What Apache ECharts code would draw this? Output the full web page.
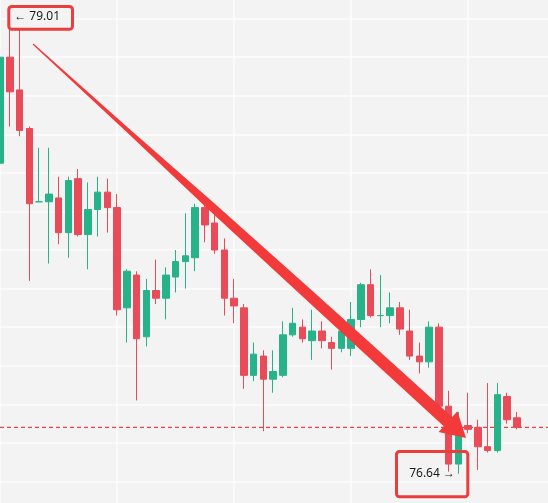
<!DOCTYPE html>
<html>
<head>
<meta charset="utf-8">
<script src="https://cdn.jsdelivr.net/npm/echarts@6/dist/echarts.min.js"></script>
<style>
  html, body { margin: 0; padding: 0; background: #f3f3f3; overflow: hidden; }
  /* the plot runs a little past the window edges, like the cropped screenshot */
  #chart { position: absolute; left: 0; top: -20px; width: 556px; height: 540px; }
</style>
</head>
<body>
<div id="chart"></div>
<script>
  // one candle per entry, oldest first
  const opens = [78.25, 78.80, 78.63, 78.43, 78.05, 78.05, 78.07, 77.89, 78.17, 77.88,
    78.01, 78.10, 78.02, 77.50, 77.67, 77.35, 77.59, 77.55, 77.66, 77.74,
    77.76, 78.02, 77.94, 77.80, 77.55, 77.50, 77.15, 77.25, 77.13, 77.15,
    77.36, 77.40, 77.33, 77.38, 77.32, 77.29, 77.29, 77.44, 77.62, 77.46,
    77.46, 77.50, 77.38, 77.25, 77.22, 77.40, 76.99, 76.69, 76.89, 76.88,
    76.78, 76.76, 77.04, 76.93];
  const closes = [78.80, 78.62, 78.42, 78.04, 78.05, 78.09, 77.89, 78.16, 77.88, 78.01,
    78.10, 78.02, 77.49, 77.69, 77.34, 77.59, 77.55, 77.67, 77.74, 77.77,
    78.02, 77.93, 77.80, 77.55, 77.51, 77.15, 77.26, 77.13, 77.17, 77.36,
    77.42, 77.34, 77.38, 77.33, 77.29, 77.38, 77.44, 77.62, 77.46, 77.46,
    77.50, 77.39, 77.25, 77.22, 77.40, 76.99, 76.69, 76.88, 76.87, 76.78,
    76.76, 77.05, 76.92, 76.88];
  const lows = [78.24, 78.44, 78.39, 77.64, 78.05, 77.73, 77.83, 77.76, 77.87, 77.70,
    77.87, 77.89, 77.46, 77.32, 77.02, 77.30, 77.52, 77.44, 77.58, 77.60,
    77.69, 77.84, 77.78, 77.46, 77.42, 77.08, 77.12, 76.86, 77.06, 77.14,
    77.35, 77.32, 77.23, 77.29, 77.18, 77.27, 77.25, 77.40, 77.45, 77.40,
    77.42, 77.36, 77.23, 77.16, 77.19, 76.97, 76.65, 76.64, 76.85, 76.66,
    76.75, 76.75, 76.90, 76.87];
  const highs = [78.83, 79.01, 78.97, 78.44, 78.33, 78.33, 78.18, 78.18, 78.22, 78.15,
    78.18, 78.17, 78.09, 77.70, 77.69, 77.65, 77.75, 77.71, 77.80, 77.99,
    78.04, 78.04, 77.99, 77.86, 77.65, 77.52, 77.32, 77.28, 77.28, 77.43,
    77.50, 77.44, 77.49, 77.43, 77.35, 77.43, 77.53, 77.63, 77.70, 77.67,
    77.58, 77.53, 77.49, 77.32, 77.43, 77.42, 77.07, 76.96, 77.06, 76.92,
    77.11, 77.11, 77.06, 76.96];

  // no labels on the time axis; a few empty slots on the right
  const slots = [];
  for (let i = 0; i < opens.length + 4; i++) slots.push(String(i + 1));

  const candles = opens.map((o, i) => [o, closes[i], lows[i], highs[i]]);
  const lastClose = closes[closes.length - 1];
  // current-price line across the whole plot
  const priceLevel = slots.map(() => lastClose);

  const up = '#27b38a';
  const down = '#e94b58';
  const bg = '#f3f3f3';
  const mark = '#ea3d3d';

  const chart = echarts.init(document.getElementById('chart'));
  chart.setOption({
    backgroundColor: bg,
    animation: false,
    grid: { left: 0, right: 0, top: 0, bottom: 0 },
    xAxis: {
      type: 'category',
      data: slots,
      boundaryGap: false,
      axisLine: { show: false },
      axisTick: { show: false },
      axisLabel: { show: false },
      splitLine: { show: true, interval: 11, lineStyle: { color: '#fcfcfc', width: 1.5 } }
    },
    yAxis: {
      type: 'value',
      min: 76.4,
      max: 79.2,
      interval: 0.2,
      axisLine: { show: false },
      axisTick: { show: false },
      axisLabel: { show: false },
      splitLine: { show: true, lineStyle: { color: '#fcfcfc', width: 1.5 } }
    },
    series: [{
      type: 'line',
      data: priceLevel,
      symbol: 'none',
      silent: true,
      z: 1,
      lineStyle: { color: '#e8414f', width: 1.3, type: [4, 3] }
    }, {
      type: 'candlestick',
      data: candles,
      barWidth: 7,
      itemStyle: {
        color: up,
        color0: down,
        borderColor: up,
        borderColor0: down,
        borderWidth: 1
      },
      markPoint: {
        z: 5,
        symbol: 'rect',
        symbolSize: 1,
        itemStyle: { color: 'rgba(0,0,0,0)' },
        label: { show: true, color: '#1a1a1a', fontSize: 12, fontFamily: 'Noto Sans' },
        data: [
          {
            type: 'max', valueDim: 'highest',
            label: { position: 'right', distance: 4, formatter: p => '← ' + Number(p.value).toFixed(2) }
          },
          {
            type: 'min', valueDim: 'lowest',
            label: { position: 'left', distance: 3, formatter: p => Number(p.value).toFixed(2) + ' →' }
          }
        ]
      }
    }],
    // hand-drawn annotations, in window pixels (the div starts 20px above it)
    graphic: [{
      type: 'group',
      y: 20,
      children: [
        {
          type: 'rect', z: 3,
          shape: { x: 8.8, y: 6.5, width: 63.7, height: 22.7, r: 3 },
          style: { fill: bg, stroke: mark, lineWidth: 3 }
        },
        {
          type: 'rect', z: 100,
          shape: { x: 396.5, y: 451.5, width: 71.3, height: 45.3, r: 3 },
          style: { fill: null, stroke: mark, lineWidth: 3 }
        },
        {
          type: 'polygon', z: 100,
          shape: {
            points: [
              [33.4, 43.6], [130.6, 129.9], [213.4, 202.4], [310.3, 289.1], [377.2, 349.3],
              [452.1, 417], [457.4, 411.3], [466, 438], [438.6, 432], [443.8, 426.2],
              [369.4, 357.9], [303.1, 297], [207.6, 208.7], [127.7, 133.1], [32.6, 44.4]
            ]
          },
          style: { fill: '#f23a3a' }
        }
      ]
    }]
  });
</script>
</body>
</html>
